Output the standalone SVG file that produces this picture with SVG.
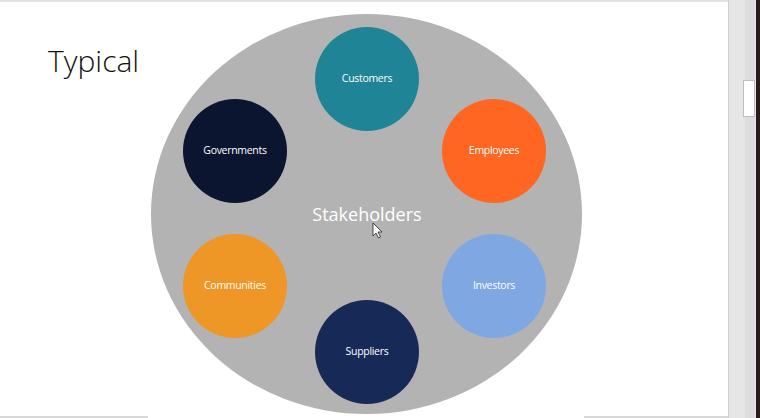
<svg xmlns="http://www.w3.org/2000/svg" width="760" height="418" viewBox="0 0 760 418">
<style>
.node{stroke:none}
.lbl{font-family:"Open Sans","Noto Sans","Liberation Sans",sans-serif;font-size:10.5px;fill:#ffffff;text-anchor:middle;letter-spacing:-0.3px}
</style>
<rect x="0" y="0" width="760" height="418" fill="#ffffff"/>
<rect x="0" y="0" width="728" height="2" fill="#e2e2e2"/>
<rect x="728" y="0" width="32" height="418" fill="#e6e6e6"/>
<rect x="745" y="0" width="10" height="418" fill="#dddddd"/>
<rect x="743.5" y="80.5" width="11" height="36" fill="#ffffff" stroke="#bdbdbd"/>
<rect x="756" y="0" width="4" height="418" fill="#2a1a18"/>
<line x1="728.5" y1="0" x2="728.5" y2="418" stroke="#d0d0d0"/>
<rect x="0" y="416" width="148" height="2" fill="#d8d8d8"/>
<rect x="584" y="416" width="144" height="2" fill="#d8d8d8"/>
<text x="48" y="72" font-family="Open Sans, Noto Sans, Liberation Sans, sans-serif" font-weight="300" font-size="30" fill="#111111">Typical</text>
<g id="stakeholders">
<ellipse cx="366.5" cy="214" rx="215.5" ry="200" fill="#b3b3b3"/>
<text x="367" y="221" font-family="Open Sans, Noto Sans, Liberation Sans, sans-serif" font-size="18" fill="#ffffff" text-anchor="middle">Stakeholders</text>
</g>
<g id="customers"><circle class="node" cx="367" cy="79" r="52" fill="#1f8496"/><text class="lbl" x="367" y="82">Customers</text></g>
<g id="employees"><circle class="node" cx="494" cy="151" r="52" fill="#fe6622"/><text class="lbl" x="494" y="154">Employees</text></g>
<g id="governments"><circle class="node" cx="235" cy="151" r="52" fill="#0c1530"/><text class="lbl" x="235" y="154">Governments</text></g>
<g id="communities"><circle class="node" cx="235" cy="286" r="52" fill="#ee9626"/><text class="lbl" x="235" y="289">Communities</text></g>
<g id="investors"><circle class="node" cx="494" cy="286" r="52" fill="#7fa7e2"/><text class="lbl" x="494" y="289">Investors</text></g>
<g id="suppliers"><circle class="node" cx="367" cy="352" r="52" fill="#172a57"/><text class="lbl" x="367" y="355">Suppliers</text></g>
<g id="connectors"></g>
<path d="M373 223 L373 236 L376 233 L378.5 238 L380.5 237 L378 232 L382 232 Z" fill="#ffffff" stroke="#222222" stroke-width="0.8"/>
</svg>
